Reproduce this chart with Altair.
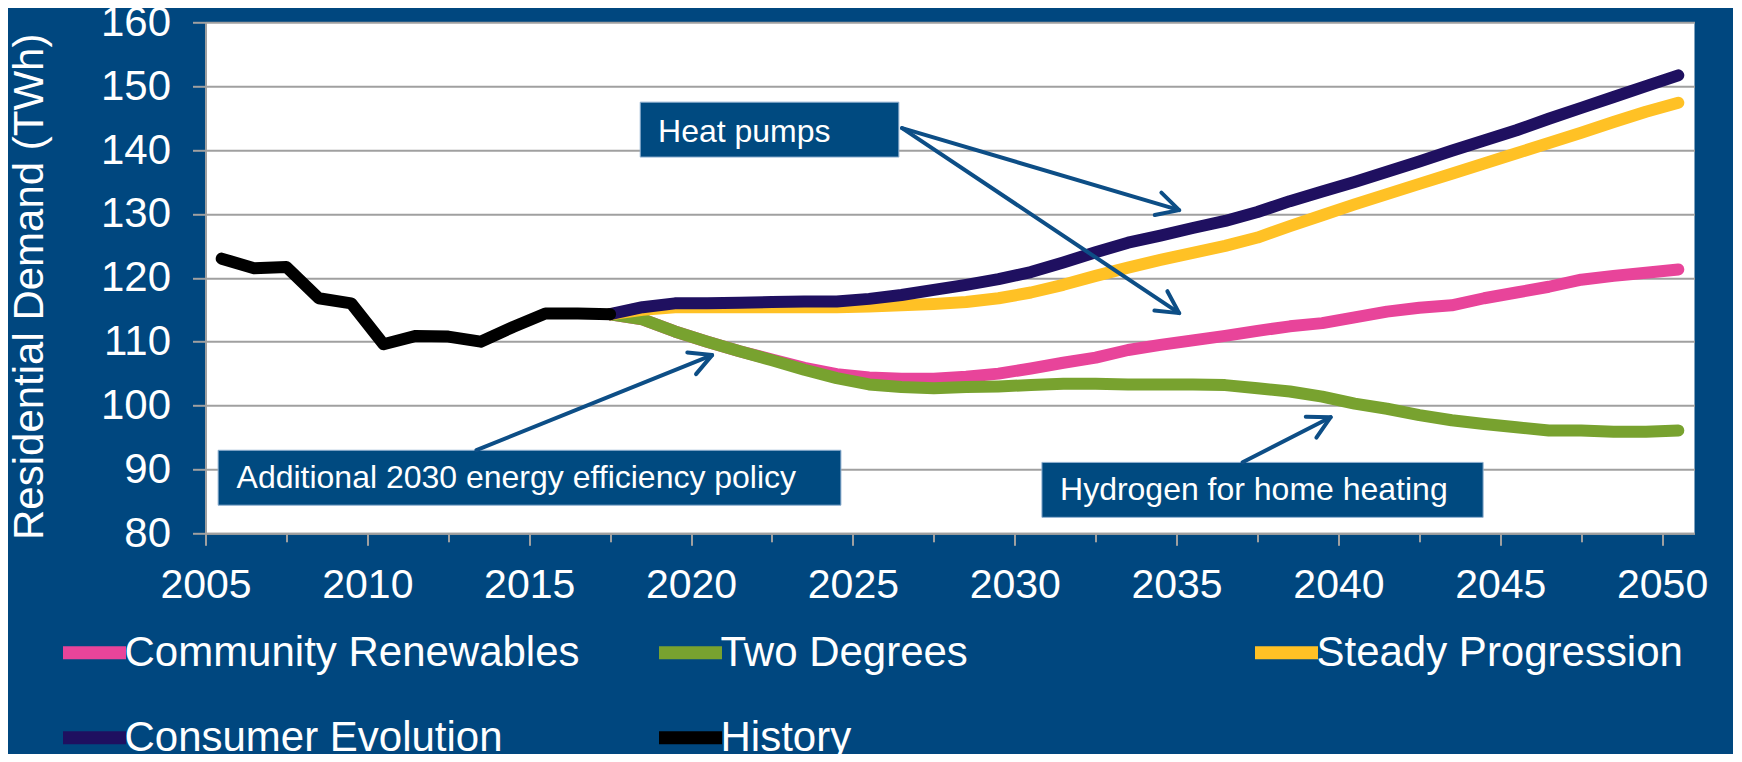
import math
import altair as alt
import pandas as pd

# ---------------- data ----------------
years_hist = list(range(2005, 2018))
history = [123.0, 121.5, 121.7, 116.8, 116.0, 109.6, 110.9, 110.8, 110.0, 112.3, 114.4, 114.4, 114.3]

years_scen = list(range(2017, 2051))
community = [114.3, 113.5, 111.6, 110.0, 108.5, 107.2, 105.9, 104.9, 104.4, 104.2,
             104.2, 104.5, 105.0, 105.8, 106.7, 107.5, 108.7, 109.5, 110.2, 110.9,
             111.7, 112.4, 112.9, 113.8, 114.7, 115.3, 115.7, 116.8, 117.7, 118.6,
             119.7, 120.3, 120.8, 121.3]
two_degrees = [114.3, 113.5, 111.6, 110.0, 108.5, 107.1, 105.6, 104.3, 103.3, 102.9,
               102.7, 102.9, 103.0, 103.2, 103.4, 103.4, 103.3, 103.3, 103.3, 103.2,
               102.7, 102.2, 101.4, 100.3, 99.5, 98.5, 97.7, 97.1, 96.6, 96.1,
               96.1, 95.9, 95.9, 96.1]
steady = [114.3, 115.0, 115.4, 115.4, 115.4, 115.4, 115.4, 115.4, 115.5, 115.7,
          115.9, 116.2, 116.8, 117.7, 118.9, 120.3, 121.6, 122.8, 123.9, 125.0,
          126.3, 128.1, 129.8, 131.5, 133.1, 134.7, 136.3, 137.9, 139.5, 141.1,
          142.7, 144.4, 146.0, 147.4]
consumer = [114.3, 115.4, 116.0, 116.0, 116.1, 116.2, 116.3, 116.3, 116.7, 117.3,
            118.1, 118.9, 119.8, 120.9, 122.4, 124.0, 125.5, 126.6, 127.8, 128.9,
            130.3, 132.0, 133.5, 135.0, 136.6, 138.2, 139.9, 141.5, 143.1, 144.9,
            146.6, 148.3, 150.0, 151.7]

series_names = ["Community Renewables", "Two Degrees", "Steady Progression",
                "Consumer Evolution", "History"]
series_colors = ["#E8449A", "#78A22F", "#FFC125", "#1F1060", "#000000"]

x_tick_values = [2005, 2007.5, 2010, 2012.5, 2015, 2017.5, 2020, 2022.5, 2025, 2027.5,
                 2030, 2032.5, 2035, 2037.5, 2040, 2042.5, 2045, 2047.5, 2050]
y_tick_values = [80, 90, 100, 110, 120, 130, 140, 150, 160]

# annotations (data units)
box_labels = ["Heat pumps", "Additional 2030 energy efficiency policy", "Hydrogen for home heating"]
box_x1 = [2017.93, 2004.89, 2030.34]
box_x2 = [2025.92, 2024.13, 2043.97]
box_y1 = [147.5, 93.0, 91.1]
box_y2 = [138.9, 84.4, 82.5]
text_x = [2018.48, 2005.46, 2030.90]
text_y = [141.25, 87.06, 85.18]

arrow_from_x = [2026.02, 2026.02, 2012.87, 2036.54]
arrow_from_y = [143.43, 143.43, 93.02, 91.13]
arrow_to_x = [2034.58, 2034.58, 2020.15, 2039.26]
arrow_to_y = [130.6, 114.47, 107.9, 98.18]

# ---------------- layout ----------------
W, H = 1489, 511
X_DOM = [2004.5, 2050.5]
Y_DOM = [80, 160]
BG = "#00477F"
GRID = "#A0A0A0"
FONT = "Liberation Sans"
ARROW = "#0D4E86"


def px(v):
    return (v - X_DOM[0]) / (X_DOM[1] - X_DOM[0]) * W


def py(v):
    return (Y_DOM[1] - v) / (Y_DOM[1] - Y_DOM[0]) * H


rows = []
for name, ys, vals in [("Community Renewables", years_scen, community),
                       ("Two Degrees", years_scen, two_degrees),
                       ("Steady Progression", years_scen, steady),
                       ("Consumer Evolution", years_scen, consumer),
                       ("History", years_hist, history)]:
    for yr, v in zip(ys, vals):
        rows.append({"year": yr, "value": v, "series": name})
df = pd.DataFrame(rows)

boxes = pd.DataFrame({"label": box_labels, "x1": box_x1, "x2": box_x2,
                      "y1": box_y1, "y2": box_y2, "tx": text_x, "ty": text_y})

angles = []
for fx, fy, tx, ty in zip(arrow_from_x, arrow_from_y, arrow_to_x, arrow_to_y):
    dx = px(tx) - px(fx)
    dy = py(ty) - py(fy)
    angles.append(math.degrees(math.atan2(dx, -dy)) % 360)
arrows = pd.DataFrame({"fx": arrow_from_x, "fy": arrow_from_y,
                       "tx": arrow_to_x, "ty": arrow_to_y, "angle": angles})

x_scale = alt.Scale(domain=X_DOM, nice=False, zero=False)
y_scale = alt.Scale(domain=Y_DOM, nice=False, zero=False)

x_axis = alt.Axis(
    values=x_tick_values, format="d", title=None,
    labelExpr="datum.value % 5 === 0 ? datum.label : ''",
    labelOverlap=False, labelFlush=False,
    labelFontSize=41, labelColor="white", labelFont=FONT, labelPadding=20,
    tickOffset=-0.5 * W / 46, tickColor=GRID, tickWidth=2,
    tickSize={"condition": {"test": "datum.value % 5 === 0", "value": 12}, "value": 8.5},
    domainColor=GRID, domainWidth=2, grid=False,
)
y_axis = alt.Axis(
    values=y_tick_values, title="Residential Demand (TWh)",
    labelFontSize=42, labelColor="white", labelFont=FONT, labelPadding=22,
    tickSize=13, tickColor=GRID, tickWidth=2,
    domainColor=GRID, domainWidth=2,
    grid=True, gridColor=GRID, gridWidth=2,
    titleFontSize=42, titleColor="white", titleFont=FONT, titleFontWeight="normal",
    titleAngle=270, titleAlign="center", titleBaseline="middle",
    titleX=-176, titleY=264,
)

legend = alt.Legend(
    title=None, orient="none", legendX=-149, legendY=592.5,
    direction="horizontal", columns=3, gridAlign="all",
    symbolType="stroke", symbolSize=3969, symbolStrokeWidth=13,
    labelFontSize=42, labelColor="white", labelFont=FONT, labelLimit=0,
    labelOffset=alt.ExprRef(expr="-8"), columnPadding=52, rowPadding=21, padding=0,
)
color_scale = alt.Scale(domain=series_names, range=series_colors)


def line_layer(name):
    return alt.Chart(df).transform_filter(alt.datum.series == name).mark_line(
        strokeWidth=12, strokeCap="round", strokeJoin="round"
    ).encode(
        x=alt.X("year:Q", scale=x_scale, axis=x_axis),
        y=alt.Y("value:Q", scale=y_scale, axis=y_axis),
        color=alt.Color("series:N", scale=color_scale, legend=legend),
    )


lines = [line_layer(n) for n in series_names]

rects = alt.Chart(boxes).mark_rect(fill="#004A80", stroke="#8FB0D0", strokeWidth=1).encode(
    x=alt.X("x1:Q", scale=x_scale, axis=x_axis), x2="x2:Q",
    y=alt.Y("y1:Q", scale=y_scale, axis=y_axis), y2="y2:Q",
)
texts = alt.Chart(boxes).mark_text(
    align="left", baseline="alphabetic", fontSize=32, color="white", font=FONT
).encode(
    x=alt.X("tx:Q", scale=x_scale, axis=x_axis),
    y=alt.Y("ty:Q", scale=y_scale, axis=y_axis),
    text="label:N",
)
shafts = alt.Chart(arrows).mark_rule(color=ARROW, strokeWidth=4, strokeCap="round").encode(
    x=alt.X("fx:Q", scale=x_scale, axis=x_axis), y=alt.Y("fy:Q", scale=y_scale, axis=y_axis),
    x2="tx:Q", y2="ty:Q",
)
heads = alt.Chart(arrows).mark_point(
    shape="M-0.53,1L0,0L0.53,1", filled=False, stroke=ARROW, strokeWidth=4,
    strokeCap="round", strokeJoin="round", size=1936, opacity=1,
).encode(
    x=alt.X("tx:Q", scale=x_scale, axis=x_axis),
    y=alt.Y("ty:Q", scale=y_scale, axis=y_axis),
    angle=alt.Angle("angle:Q", scale=None),
)

chart = alt.layer(*lines, rects, texts, shafts, heads).properties(
    width=W, height=H, background=BG,
    autosize=alt.AutoSizeParams(type="none"),
    padding={"left": 197.5, "top": 14.3, "right": 38, "bottom": 220.5},
).configure_view(fill="white", strokeWidth=0)

chart.save("out.html", embed_options={"renderer": "svg", "actions": False})
